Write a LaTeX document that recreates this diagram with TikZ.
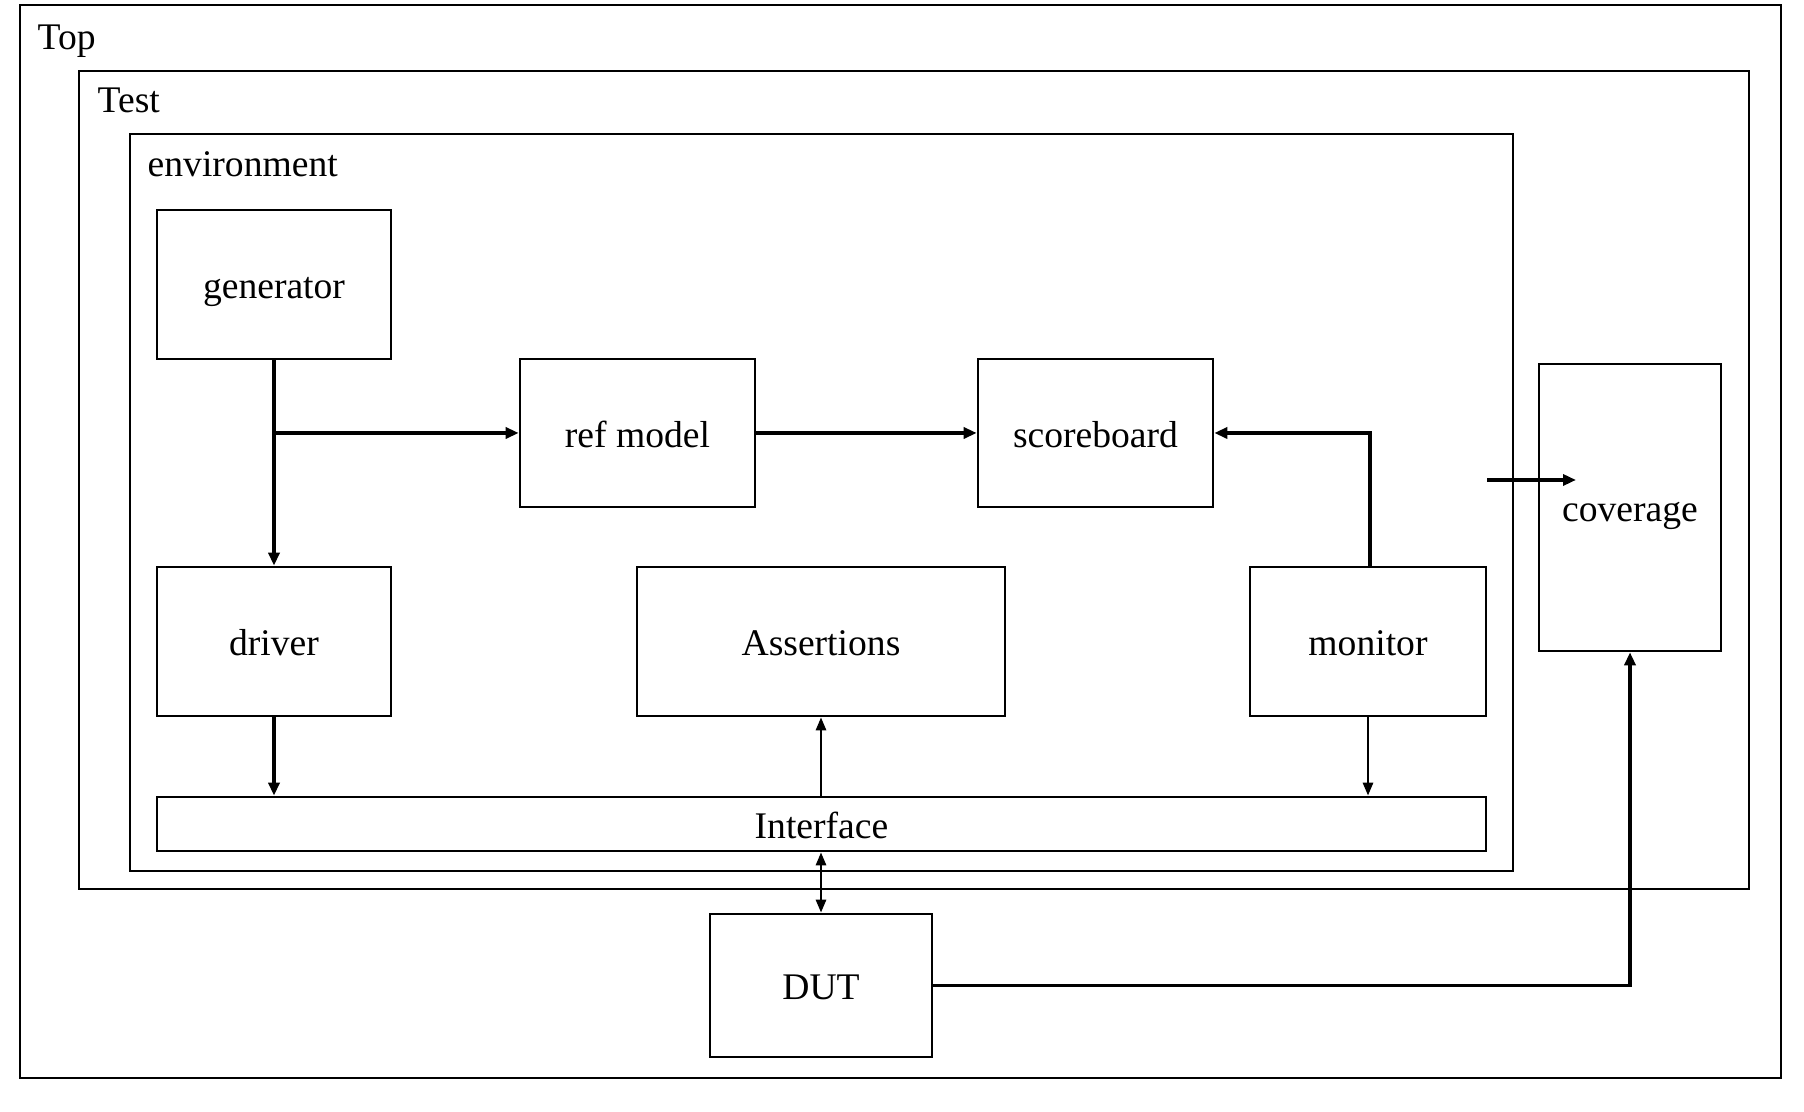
\documentclass[tikz,border=0pt]{standalone}
\usepackage{fontspec}
\setmainfont{Liberation Serif}
\usetikzlibrary{arrows.meta,calc}

\begin{document}
\begin{tikzpicture}[
  font=\fontsize{10.7}{13}\selectfont,
  block/.style={draw,line width=0.75pt,inner sep=0pt,text height=8pt,text depth=0pt,
    minimum width=2.34cm,minimum height=1.49cm},
  frame/.style={draw,line width=0.75pt},
  framelabel/.style={anchor=base west,inner sep=0pt},
  bigarrow/.style={line width=1.1pt,-{Triangle[length=1.3mm,width=1.1mm]}},
  smallarrow/.style={line width=0.75pt,-{Triangle[length=1.3mm,width=1.0mm]}},
  botharrow/.style={line width=0.75pt,{Triangle[length=1.3mm,width=1.0mm]}-{Triangle[length=1.3mm,width=1.0mm]}}
]
  \useasboundingbox (0,0) rectangle (18.04,11.12);

  % Nested frames
  \draw[frame] (0.20,0.34) rectangle (17.81,11.07);
  \node[framelabel] (toplabel) at (0.37,10.62) {Top};
  \draw[frame] (0.79,2.23) rectangle (17.49,10.41);
  \node[framelabel] (testlabel) at (0.97,9.99) {Test};
  \draw[frame] (1.30,2.41) rectangle (15.13,9.78);
  \node[framelabel] (envlabel) at (1.47,9.35) {environment};

  % Blocks inside the environment
  \node[block] (gen) at (2.74,8.275) {generator};
  \node[block,minimum width=2.35cm,minimum height=1.48cm] (ref) at (6.375,6.79) {ref model};
  \node[block,minimum width=2.35cm,minimum height=1.48cm] (score) at (10.955,6.79) {scoreboard};
  \node[block] (driver) at (2.74,4.705) {driver};
  \node[block,minimum width=3.68cm] (assert) at (8.21,4.705) {Assertions};
  \node[block,minimum width=2.36cm] (monitor) at (13.68,4.705) {monitor};
  \node[block,minimum width=13.29cm,minimum height=0.54cm] (iface) at (8.215,2.88) {Interface};

  % Blocks outside the environment
  \node[block,minimum width=1.82cm,minimum height=2.87cm] (cov) at (16.30,6.045) {coverage};
  \node[block,minimum width=2.22cm,minimum height=1.43cm] (dut) at (8.21,1.265) {DUT};

  % Connections
  \coordinate (split) at (gen.south |- ref.west);
  \draw[bigarrow] (gen.south) -- (driver.north);
  \draw[bigarrow] (split) -- (ref.west);
  \draw[bigarrow] (ref.east) -- (score.west);
  \draw[bigarrow] ([xshift=0.02cm]monitor.north) |- (score.east);
  \draw[bigarrow] (driver.south) -- (driver.south |- iface.north);
  \draw[smallarrow] (monitor.south) -- (monitor.south |- iface.north);
  \draw[smallarrow] (assert.south |- iface.north) -- (assert.south);
  \draw[botharrow] (dut.north |- iface.south) -- (dut.north);

  % Coverage inputs
  \coordinate (covin) at (14.87,6.32);
  \coordinate (covtip) at (15.76,6.32);
  \draw[bigarrow] (covin) -- (covtip);
  \draw[bigarrow] (dut.east) -| (cov.south);
\end{tikzpicture}
\end{document}
